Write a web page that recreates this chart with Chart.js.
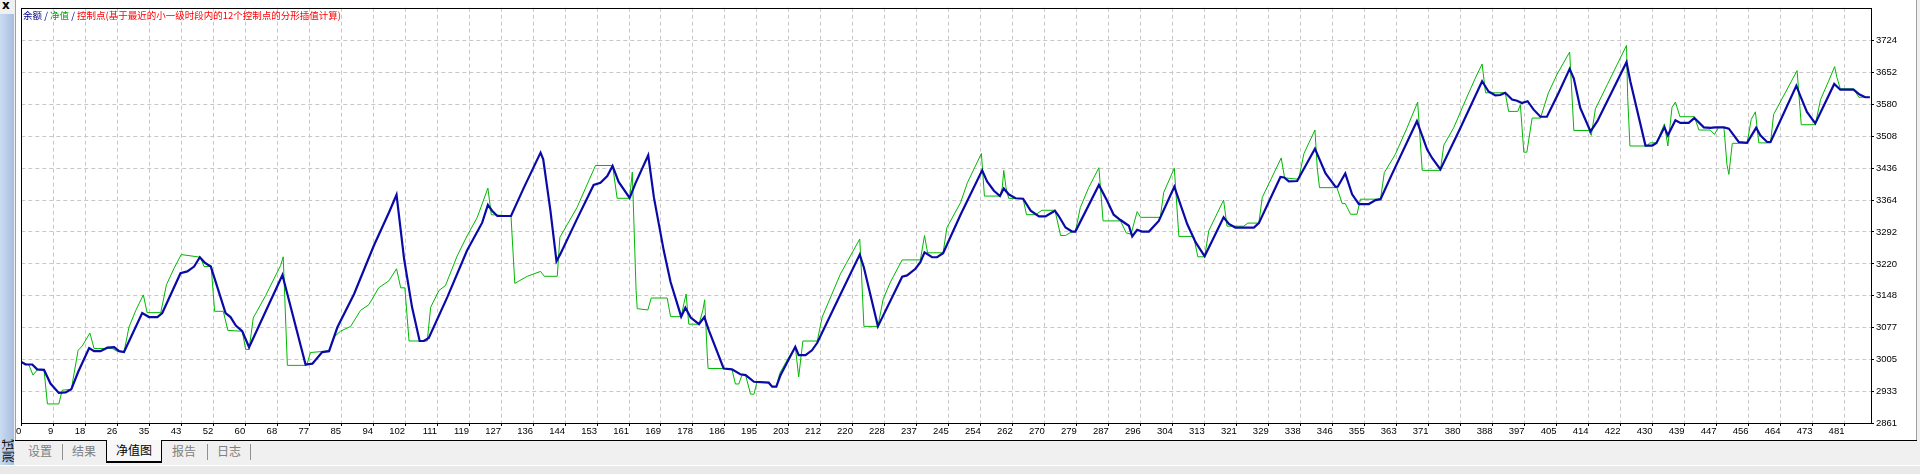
<!DOCTYPE html>
<html>
<head>
<meta charset="utf-8">
<script src="https://cdn.jsdelivr.net/npm/chart.js@4.4.1/dist/chart.umd.min.js"></script>
<style>
html, body { margin: 0; padding: 0; }
body { width: 1920px; height: 474px; position: relative; overflow: hidden; background: #f0f0f0; font-family: "Noto Sans CJK SC", sans-serif; }
#close { position: absolute; left: 2px; top: -2px; font: bold 12px "DejaVu Sans", sans-serif; color: #000; }
#side { position: absolute; left: 0; top: 14px; width: 14px; height: 460px; background: linear-gradient(to right, #cbdcf1, #a6bedf); }
#side-label { position: absolute; left: 7px; top: 437px; transform: translate(-50%, -50%) rotate(-90deg); font-size: 12px; line-height: 13px; color: #000; white-space: nowrap; }
#panel { position: absolute; left: 15px; top: 0; width: 1900px; height: 440px; background: #fff; border-left: 1px solid #a0a0a0; border-right: 1px solid #a0a0a0; }
#wrap { position: absolute; left: 16px; top: 0; width: 1900px; height: 440px; }
#legend { position: absolute; left: 23px; top: 9px; font-size: 9.5px; line-height: 12px; white-space: nowrap; }
#legend .b { color: #00008c; }
#legend .g { color: #00a800; }
#legend .r { color: #ff0000; }
#tabline { position: absolute; left: 15px; top: 440px; width: 1902px; height: 1px; background: #000; }
.tab { position: absolute; top: 442px; font-size: 12px; line-height: 18px; color: #808080; }
.sep { position: absolute; top: 444px; width: 1px; height: 16px; background: #909090; }
#sel { position: absolute; left: 106px; top: 440px; width: 54px; height: 21px; background: #f8f8f8; border: 1px solid #000; border-top: none; border-bottom-width: 2px; color: #000; font-size: 12px; line-height: 20px; text-align: center; }
#foot { position: absolute; left: 0; top: 465px; width: 1920px; height: 9px; background: #e9e9e9; border-top: 1px solid #fff; }
</style>
</head>
<body>
<div id="close">x</div>
<div id="side"><div id="side-label">测试</div></div>
<div id="panel"></div>
<div id="wrap"><canvas id="equityChart"></canvas></div>
<div id="legend"><span class="b">余额</span><span class="b"> / </span><span class="g">净值</span><span class="b"> / </span><span class="r">控制点(基于最近的小一级时段内的12个控制点的分形插值计算)</span></div>
<div id="tabline"></div>
<div class="tab" style="left:28px">设置</div>
<div class="sep" style="left:62px"></div>
<div class="tab" style="left:72px">结果</div>
<div id="sel">净值图</div>
<div class="tab" style="left:172px">报告</div>
<div class="sep" style="left:207px"></div>
<div class="tab" style="left:217px">日志</div>
<div class="sep" style="left:250px"></div>
<div id="foot"></div>
<script>
// x axis labels (bar numbers under each grid line)
const xLabels = [0, 9, 18, 26, 35, 43, 52, 60, 68, 77, 85, 94, 102, 111, 119, 127, 136, 144, 153, 161,
  169, 178, 186, 195, 203, 212, 220, 228, 237, 245, 254, 262, 270, 279, 287, 296, 304, 313, 321, 329,
  338, 346, 355, 363, 371, 380, 388, 397, 405, 414, 422, 430, 439, 447, 456, 464, 473, 481];

// right axis labels
const yTicks = [2861, 2933, 3005, 3077, 3148, 3220, 3292, 3364, 3436, 3508, 3580, 3652, 3724];

// balance (余额): [bar, value]
const balancePts = [
  [0,2999],[1.1,2993],[2.9,2993],[4.2,2982],[6,2981],[7.7,2950],[9.9,2929],[11.7,2930],[13.2,2937],[15,2976],
  [17.9,3030],[19.2,3023],[20.9,3023],[22.7,3031],[24.5,3032],[25.8,3023],[27.1,3021],[31.9,3109],[33.7,3100],[35.9,3100],
  [37.2,3109],[42,3199],[43.8,3203],[45.6,3214],[47.1,3235],[48.4,3223],[50,3214],[53.9,3109],[55.2,3100],[56.6,3081],
  [58.3,3068],[60.1,3032],[68.9,3195],[75,2993],[76.8,2995],[79.4,3021],[81.2,3023],[83.4,3077],[87.8,3152],[93,3261],
  [97,3336],[99,3376],[101,3231],[103.1,3122],[105.1,3046],[106.2,3046],[107.5,3053],[112.4,3145],[117.6,3250],[121.6,3313],
  [123.1,3353],[124.2,3340],[125.6,3328],[129.2,3328],[132.6,3392],[137,3471],[137.7,3456],[139.6,3340],[141.2,3226],[142.2,3242],
  [146.6,3321],[151,3398],[152.8,3403],[154.6,3418],[156,3441],[157.6,3405],[160.5,3369],[162,3401],[165.4,3465],[166.9,3370],
  [169.5,3250],[171.3,3179],[174.1,3101],[175.2,3121],[176.6,3099],[178.8,3084],[180.2,3100],[181.4,3070],[185.3,2984],[187.5,2982],
  [189.7,2971],[191.1,2969],[193.3,2954],[197.2,2952],[198.1,2943],[199.2,2943],[200.3,2969],[204.2,3033],[205.1,3014],[206.9,3014],
  [208.6,3025],[210,3042],[216.1,3151],[221.2,3241],[222.3,3212],[226,3079],[232.4,3191],[233.7,3194],[235.9,3209],[237.2,3224],
  [238.3,3246],[240.3,3235],[241.6,3235],[243.2,3244],[247.8,3331],[253.5,3431],[254.8,3406],[256.6,3385],[258.2,3373],[259.2,3390],
  [260.5,3377],[262.3,3368],[264.3,3367],[266.3,3340],[268.5,3327],[270.2,3327],[272.7,3340],[273.7,3328],[275.5,3302],[277.2,3293],
  [278.1,3293],[284.3,3398],[286.5,3362],[288.2,3331],[290,3319],[292.2,3306],[293.1,3282],[294.4,3297],[295.7,3293],[297.5,3293],
  [300.1,3317],[304.2,3394],[307.6,3310],[309.8,3269],[312.2,3237],[317.2,3325],[318.6,3310],[320.3,3302],[325.2,3302],[326.5,3312],
  [332.2,3416],[333.2,3415],[334.4,3406],[336.6,3407],[341.3,3480],[344.1,3424],[346.7,3394],[347.3,3394],[349.3,3424],[351.1,3377],
  [352.9,3355],[355.5,3355],[357.3,3364],[358.6,3366],[361.6,3422],[368.2,3542],[370.9,3478],[372.2,3459],[374.4,3433],[379.7,3527],
  [385.4,3632],[387.1,3609],[388.9,3600],[390.2,3601],[391.5,3606],[393.3,3591],[394.6,3588],[395.9,3583],[397.4,3587],[399,3568],
  [400.8,3552],[402.5,3552],[405.6,3606],[408.5,3660],[409.6,3638],[411.3,3572],[414,3519],[415.8,3542],[423.5,3675],[424.5,3632],
  [428.5,3487],[430.3,3487],[431.4,3493],[433.5,3528],[434.4,3510],[436.4,3544],[437.7,3538],[439.9,3538],[441.4,3549],[443.9,3528],
  [445.6,3527],[446.9,3528],[449.2,3528],[450.5,3525],[453.1,3495],[455.3,3493],[457.7,3527],[458.8,3510],[460.6,3495],[461.5,3495],
  [468.3,3622],[469.4,3598],[471.1,3563],[473.3,3537],[478.3,3626],[479.9,3613],[483.4,3613],[485,3602],[486.5,3596],[487.7,3596]
];

// equity (净值): [bar, value]
const equityPts = [
  [0,2999],[2,2992],[3.1,2969],[4.2,2981],[6,2981],[6.9,2904],[9.9,2904],[10.8,2935],[13.2,2937],[15,3025],
  [16.1,3035],[18.1,3064],[19.2,3029],[24,3029],[25.3,3023],[27.1,3021],[28.4,3077],[30.2,3115],[32.2,3150],[33.2,3110],
  [36.8,3110],[38.3,3173],[40.3,3210],[42.2,3241],[47.3,3235],[48.2,3214],[50.1,3214],[51,3113],[53.3,3113],[54.5,3070],
  [58.3,3068],[59.2,3027],[60.1,3027],[61.2,3098],[64.5,3149],[68.4,3216],[69.1,3236],[69.5,3148],[70.2,2991],[75.3,2991],
  [76.3,3020],[80.3,3023],[81.2,3025],[82.5,3055],[84.2,3068],[86.9,3079],[89.5,3115],[91.7,3128],[94.3,3166],[97,3182],
  [99,3209],[100.1,3166],[101.2,3166],[102.3,3046],[107.1,3046],[108,3122],[110.2,3160],[111.9,3171],[115,3238],[117.6,3283],
  [120.3,3325],[123.1,3391],[124,3331],[129.2,3328],[130.2,3176],[133.5,3192],[137,3203],[138,3192],[141.4,3192],[142.1,3280],
  [146.6,3347],[151.5,3442],[156,3442],[157.2,3368],[160.5,3368],[161.2,3427],[162.2,3160],[162.5,3119],[165.3,3116],[166.2,3143],
  [170.4,3143],[171.3,3101],[174.1,3101],[174.8,3130],[175.4,3152],[176.1,3084],[178.8,3084],[179.8,3115],[180.3,3139],[181,3010],
  [181.2,2984],[185.3,2984],[187.5,2982],[188.4,2949],[189.3,2949],[190.2,2971],[191.1,2969],[192.4,2926],[193.3,2926],[194.1,2954],
  [197.2,2952],[198.1,2943],[199.2,2943],[200.1,2973],[202.5,3010],[204.2,3033],[205.1,2965],[206.2,3046],[210,3046],[211.3,3100],
  [216.1,3197],[221.2,3276],[221.6,3212],[222.3,3079],[226,3079],[227.4,3141],[229.3,3179],[232.4,3229],[237.2,3229],[238.3,3284],
  [239.1,3245],[243.2,3245],[244.2,3302],[247.8,3358],[249.6,3403],[253.3,3469],[254.1,3373],[258.2,3373],[258.8,3392],[259.2,3431],
  [259.8,3392],[260.5,3368],[264.3,3367],[265.2,3331],[267.6,3331],[269.3,3341],[272.7,3341],[274.2,3284],[275.5,3284],[277.2,3293],
  [278.1,3293],[279.4,3347],[281.6,3392],[284.3,3437],[285.4,3317],[290,3317],[291.5,3290],[292.8,3287],[293.5,3310],[294.4,3338],
  [295.3,3325],[300.5,3325],[301.4,3381],[304.2,3436],[305.4,3282],[309.3,3282],[310.4,3236],[312.2,3236],[313.3,3295],[317.2,3364],
  [318.1,3305],[322.5,3305],[323.6,3312],[326.5,3312],[327.4,3370],[332.4,3459],[333.3,3414],[337,3411],[338.4,3469],[341.3,3522],
  [341.9,3437],[342.5,3392],[347.1,3392],[348.5,3356],[349.3,3356],[350.7,3332],[352.4,3332],[353.3,3366],[358.6,3366],[359.6,3426],
  [362.5,3467],[365.6,3527],[368.4,3585],[369.6,3431],[374.4,3431],[375.3,3488],[377.9,3527],[380.5,3579],[383.6,3639],[385.4,3671],
  [386.3,3606],[391.5,3606],[392.4,3564],[394.8,3564],[395.5,3579],[396.4,3472],[397.2,3472],[398.6,3549],[400.8,3549],[402.9,3606],
  [405.2,3648],[408.5,3698],[409.6,3521],[413.5,3521],[414.2,3510],[415.3,3570],[418.4,3624],[423.5,3713],[423.8,3598],[424.4,3486],
  [428.9,3486],[429.6,3493],[431.4,3493],[433.5,3536],[434.4,3486],[435.5,3573],[436.4,3585],[437.6,3552],[441.4,3552],[442.6,3522],
  [445.6,3522],[446.7,3512],[447.8,3528],[449.2,3528],[450,3444],[450.5,3422],[451.4,3492],[455.3,3492],[456.4,3546],[457.5,3563],
  [458.4,3493],[461.5,3493],[462.3,3557],[468.5,3656],[469.6,3534],[473.3,3534],[474.7,3591],[476.8,3632],[478.4,3665],[479,3641],
  [479.9,3615],[483.4,3615],[484.8,3596],[487.7,3596]
];

const toXY = pts => pts.map(p => ({ x: p[0], y: p[1] }));
// grid lines sit at even spacing, one per x label
const xStep = xLabels[xLabels.length - 1] / (xLabels.length - 1);

const tickFont = { family: 'Liberation Sans', size: 9.5 };

// black frame round the plot area
const frame = {
  id: 'frame',
  afterDraw(chart) {
    const { ctx, chartArea: a } = chart;
    ctx.save();
    ctx.strokeStyle = '#000';
    ctx.lineWidth = 1;
    ctx.strokeRect(Math.round(a.left) + 0.5, Math.round(a.top) + 0.5,
      Math.round(a.right - a.left), Math.round(a.bottom - a.top));
    ctx.restore();
  }
};

new Chart(document.getElementById('equityChart'), {
  type: 'line',
  data: {
    datasets: [
      {
        label: '余额',
        data: toXY(balancePts),
        borderColor: '#0a0aa8',
        borderWidth: 2.2,
        pointRadius: 0,
        tension: 0
      },
      {
        label: '净值',
        data: toXY(equityPts),
        borderColor: '#00b800',
        borderWidth: 1,
        pointRadius: 0,
        tension: 0
      }
    ]
  },
  options: {
    responsive: true,
    maintainAspectRatio: false,
    animation: false,
    layout: { padding: { left: 5, top: 6, right: 0, bottom: 0 } },
    plugins: { legend: { display: false }, tooltip: { enabled: false } },
    scales: {
      x: {
        type: 'linear',
        min: 0,
        max: 488,
        afterBuildTicks: s => { s.ticks = xLabels.map((l, i) => ({ value: i * xStep })); },
        afterFit: s => { s.height = 17; },
        ticks: {
          autoSkip: false,
          maxRotation: 0,
          align: 'end',
          padding: 0,
          color: '#000',
          font: tickFont,
          callback: (v, i) => String(xLabels[i])
        },
        grid: { color: '#c8c8c8', tickColor: '#000', tickLength: 3 },
        border: { display: false, dash: [4, 3] }
      },
      y: {
        type: 'linear',
        position: 'right',
        min: 2861,
        max: 3798,
        afterBuildTicks: s => { s.ticks = yTicks.map(v => ({ value: v })); },
        afterFit: s => { s.width = 45; },
        ticks: {
          padding: 2,
          color: '#000',
          font: tickFont,
          callback: v => String(v)
        },
        grid: { color: '#c8c8c8', tickColor: '#000', tickLength: 3 },
        border: { display: false, dash: [4, 3] }
      }
    }
  },
  plugins: [frame]
});
</script>
</body>
</html>
